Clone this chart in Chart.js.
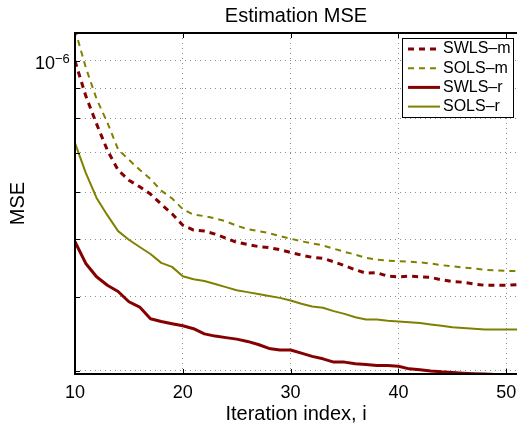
<!DOCTYPE html>
<html>
<head>
<meta charset="utf-8">
<script src="https://cdn.jsdelivr.net/npm/chart.js@4.4.0/dist/chart.umd.min.js"></script>
<style>
  html, body { margin: 0; padding: 0; background: #fff; overflow: hidden; }
  #wrap { width: 517px; height: 427px; }
</style>
</head>
<body>
<div id="wrap"><canvas id="mseChart" width="517" height="427"></canvas></div>
<script>
const iterations = [10, 11, 12, 13, 14, 15, 16, 17, 18, 19, 20, 21, 22, 23, 24, 25, 26, 27, 28, 29, 30,
  31, 32, 33, 34, 35, 36, 37, 38, 39, 40, 41, 42, 43, 44, 45, 46, 47, 48, 49, 50, 51];

const swlsM = [1.0e-6, 8.73e-7, 7.83e-7, 7.07e-7, 6.54e-7, 6.29e-7, 6.13e-7, 5.96e-7, 5.73e-7, 5.52e-7, 5.28e-7,
  5.18e-7, 5.16e-7, 5.10e-7, 5.02e-7, 4.94e-7, 4.90e-7, 4.86e-7, 4.84e-7, 4.80e-7, 4.75e-7,
  4.70e-7, 4.66e-7, 4.64e-7, 4.58e-7, 4.51e-7, 4.44e-7, 4.38e-7, 4.39e-7, 4.33e-7, 4.32e-7,
  4.33e-7, 4.32e-7, 4.31e-7, 4.27e-7, 4.24e-7, 4.23e-7, 4.20e-7, 4.18e-7, 4.18e-7, 4.18e-7, 4.19e-7];
const solsM = [1.13e-6, 9.75e-7, 8.63e-7, 7.87e-7, 7.09e-7, 6.81e-7, 6.55e-7, 6.32e-7, 6.04e-7, 5.86e-7, 5.62e-7,
  5.50e-7, 5.47e-7, 5.42e-7, 5.36e-7, 5.27e-7, 5.20e-7, 5.16e-7, 5.12e-7, 5.06e-7, 5.01e-7,
  4.96e-7, 4.92e-7, 4.88e-7, 4.82e-7, 4.76e-7, 4.71e-7, 4.65e-7, 4.62e-7, 4.60e-7, 4.59e-7,
  4.58e-7, 4.57e-7, 4.55e-7, 4.52e-7, 4.50e-7, 4.48e-7, 4.46e-7, 4.44e-7, 4.43e-7, 4.42e-7, 4.42e-7];
const swlsR = [4.95e-7, 4.55e-7, 4.32e-7, 4.18e-7, 4.08e-7, 3.92e-7, 3.84e-7, 3.67e-7, 3.63e-7, 3.60e-7, 3.57e-7,
  3.53e-7, 3.46e-7, 3.43e-7, 3.41e-7, 3.39e-7, 3.36e-7, 3.32e-7, 3.27e-7, 3.25e-7, 3.25e-7,
  3.21e-7, 3.17e-7, 3.14e-7, 3.10e-7, 3.10e-7, 3.08e-7, 3.07e-7, 3.06e-7, 3.06e-7, 3.05e-7,
  3.02e-7, 3.01e-7, 2.995e-7, 2.985e-7, 2.978e-7, 2.97e-7, 2.964e-7, 2.96e-7, 2.954e-7, 2.948e-7, 2.948e-7];
const solsR = [7.27e-7, 6.47e-7, 5.87e-7, 5.49e-7, 5.16e-7, 4.99e-7, 4.85e-7, 4.72e-7, 4.56e-7, 4.49e-7, 4.33e-7,
  4.28e-7, 4.25e-7, 4.20e-7, 4.15e-7, 4.10e-7, 4.07e-7, 4.04e-7, 4.01e-7, 3.98e-7, 3.94e-7,
  3.89e-7, 3.85e-7, 3.83e-7, 3.78e-7, 3.74e-7, 3.69e-7, 3.66e-7, 3.66e-7, 3.64e-7, 3.63e-7,
  3.62e-7, 3.61e-7, 3.59e-7, 3.57e-7, 3.55e-7, 3.54e-7, 3.53e-7, 3.52e-7, 3.52e-7, 3.52e-7, 3.52e-7];

const xTicks = [10, 20, 30, 40, 50];
const yTicks = [3e-7, 4e-7, 5e-7, 6e-7, 7e-7, 8e-7, 9e-7, 1e-6];
const yLabelBase = '10';
const yLabelExp = '\u22126';

const FONT = "'Liberation Sans', Arial, Helvetica, sans-serif";
const RED = '#850000';
const OLIVE = '#808000';

const toPoints = vals => iterations.map((it, i) => ({ x: it, y: vals[i] }));

// MATLAB-like box, inward ticks, 10^-6 label and the legend
const framePlugin = {
  id: 'frame',
  afterDraw(chart) {
    const { ctx, chartArea: a, scales: { x, y } } = chart;
    ctx.save();
    ctx.strokeStyle = '#000';
    ctx.lineWidth = 1;
    ctx.beginPath();
    xTicks.forEach(v => {
      const px = Math.round(x.getPixelForValue(v)) + 0.5;
      ctx.moveTo(px, a.bottom); ctx.lineTo(px, a.bottom - 5);
      ctx.moveTo(px, a.top); ctx.lineTo(px, a.top + 5);
    });
    yTicks.forEach(v => {
      const py = Math.round(y.getPixelForValue(v)) + 0.5;
      ctx.moveTo(a.left, py); ctx.lineTo(a.left + 5, py);
    });
    ctx.stroke();

    ctx.lineWidth = 2;
    ctx.beginPath();
    ctx.moveTo(a.right, a.top);
    ctx.lineTo(a.left, a.top);
    ctx.lineTo(a.left, a.bottom);
    ctx.lineTo(a.right, a.bottom);
    ctx.stroke();

    // y tick label with superscript
    const py = y.getPixelForValue(1e-6);
    ctx.fillStyle = '#000';
    ctx.textBaseline = 'alphabetic';
    ctx.textAlign = 'right';
    ctx.font = '18px ' + FONT;
    ctx.fillText(yLabelBase, a.left - 20, py + 8);
    ctx.textAlign = 'left';
    ctx.font = '13px ' + FONT;
    ctx.fillText(yLabelExp, a.left - 20, py + 2);

    // legend
    const lx = 402, ly = 38, lw = 111, lh = 79;
    ctx.fillStyle = '#fff';
    ctx.fillRect(lx, ly, lw, lh);
    ctx.lineWidth = 1;
    ctx.strokeStyle = '#000';
    ctx.strokeRect(lx + 0.5, ly + 0.5, lw, lh);
    ctx.font = '16px ' + FONT;
    ctx.textBaseline = 'middle';
    chart.data.datasets.forEach((ds, i) => {
      const rowY = ly + 11 + i * 19.2;
      ctx.beginPath();
      ctx.strokeStyle = ds.borderColor;
      ctx.lineWidth = ds.borderWidth;
      ctx.setLineDash(ds.borderDash || []);
      ctx.moveTo(lx + 6, rowY);
      ctx.lineTo(lx + 38, rowY);
      ctx.stroke();
      ctx.setLineDash([]);
      ctx.fillStyle = '#000';
      ctx.fillText(ds.label, lx + 41, rowY);
    });
    ctx.restore();
  }
};

const ctx = document.getElementById('mseChart').getContext('2d');
new Chart(ctx, {
  type: 'line',
  data: {
    datasets: [
      { label: 'SWLS\u2013m', data: toPoints(swlsM), borderColor: RED, borderWidth: 3, borderDash: [6, 5] },
      { label: 'SOLS\u2013m', data: toPoints(solsM), borderColor: OLIVE, borderWidth: 2, borderDash: [6, 5] },
      { label: 'SWLS\u2013r', data: toPoints(swlsR), borderColor: RED, borderWidth: 3 },
      { label: 'SOLS\u2013r', data: toPoints(solsR), borderColor: OLIVE, borderWidth: 2 }
    ].map(ds => Object.assign({ pointRadius: 0, tension: 0, fill: false, borderJoinStyle: 'round' }, ds))
  },
  options: {
    responsive: false,
    animation: false,
    layout: { padding: 0 },
    plugins: {
      legend: { display: false },
      tooltip: { enabled: false },
      title: {
        display: true,
        fullSize: false,
        text: 'Estimation MSE',
        color: '#000',
        font: { family: FONT, size: 20, weight: 'normal' },
        padding: { top: 4, bottom: 5 }
      }
    },
    scales: {
      x: {
        type: 'linear',
        min: 10,
        max: 51,
        afterBuildTicks: scale => { scale.ticks = xTicks.map(v => ({ value: v })); },
        afterFit: scale => { scale.height = 53; scale.paddingRight = 0; scale.paddingLeft = 0; },
        ticks: { color: '#000', font: { family: FONT, size: 18 }, padding: 8, maxRotation: 0 },
        grid: { color: 'rgba(0,0,0,0.45)', lineWidth: 1, drawTicks: false },
        border: { display: false, dash: [1, 4] },
        title: { display: true, text: 'Iteration index, i', color: '#000', font: { family: FONT, size: 20 }, padding: { top: 0, bottom: 1 } }
      },
      y: {
        type: 'logarithmic',
        min: 2.96e-7,
        max: 1.115e-6,
        afterBuildTicks: scale => { scale.ticks = yTicks.map(v => ({ value: v })); },
        afterFit: scale => { scale.width = 75; },
        ticks: { display: false },
        grid: { color: 'rgba(0,0,0,0.45)', lineWidth: 1, drawTicks: false },
        border: { display: false, dash: [1, 4] },
        title: { display: true, text: 'MSE', color: '#000', font: { family: FONT, size: 20 }, padding: { top: 6, bottom: 0 } }
      }
    }
  },
  plugins: [framePlugin]
});
</script>
</body>
</html>
